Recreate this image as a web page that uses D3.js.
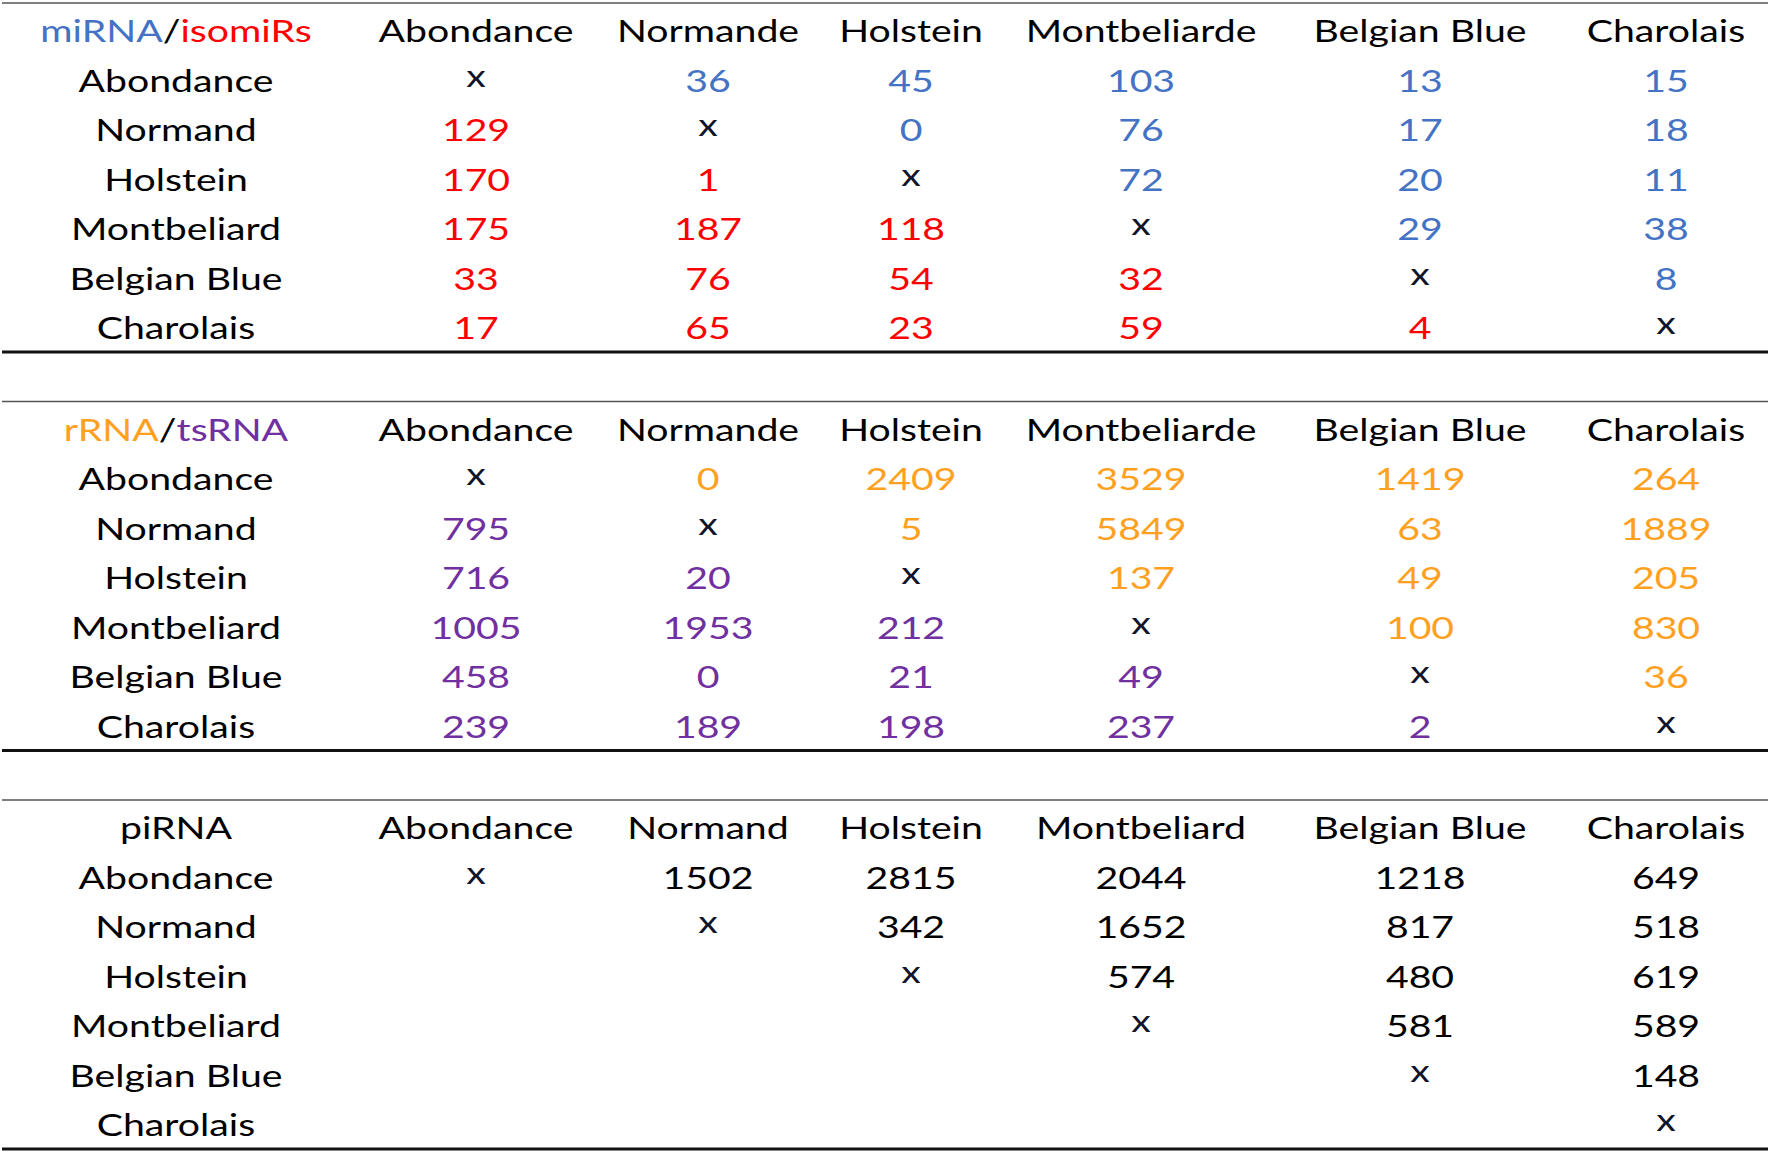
<!DOCTYPE html>
<html>
<head>
<meta charset="utf-8">
<script src="https://cdn.jsdelivr.net/npm/d3@7"></script>
<style>
  html, body { margin: 0; padding: 0; background: #fff; }
  svg { display: block; }
</style>
</head>
<body>
<svg id="chart" width="1772" height="1153"></svg>
<script>
// ---------------- DATA ----------------
const rowLabels = ["Abondance", "Normand", "Holstein", "Montbeliard", "Belgian Blue", "Charolais"];
const colHeadersA = ["Abondance", "Normande", "Holstein", "Montbeliarde", "Belgian Blue", "Charolais"];
const colHeadersB = ["Abondance", "Normand", "Holstein", "Montbeliard", "Belgian Blue", "Charolais"];

// null = diagonal "x", undefined (empty string) = blank cell
const mirnaMatrix = [
  [null, 36, 45, 103, 13, 15],
  [129, null, 0, 76, 17, 18],
  [170, 1, null, 72, 20, 11],
  [175, 187, 118, null, 29, 38],
  [33, 76, 54, 32, null, 8],
  [17, 65, 23, 59, 4, null]
];
const rrnaMatrix = [
  [null, 0, 2409, 3529, 1419, 264],
  [795, null, 5, 5849, 63, 1889],
  [716, 20, null, 137, 49, 205],
  [1005, 1953, 212, null, 100, 830],
  [458, 0, 21, 49, null, 36],
  [239, 189, 198, 237, 2, null]
];
const pirnaMatrix = [
  [null, 1502, 2815, 2044, 1218, 649],
  ["", null, 342, 1652, 817, 518],
  ["", "", null, 574, 480, 619],
  ["", "", "", null, 581, 589],
  ["", "", "", "", null, 148],
  ["", "", "", "", "", null]
];

const sections = [
  { title: [["miRNA", "upper"], ["/", "plain"], ["isomiRs", "lower"]],
    headers: colHeadersA, matrix: mirnaMatrix,
    upper: "#4472C4", lower: "#FF0000" },
  { title: [["rRNA", "upper"], ["/", "plain"], ["tsRNA", "lower"]],
    headers: colHeadersA, matrix: rrnaMatrix,
    upper: "#FFA11F", lower: "#7030A0" },
  { title: [["piRNA", "plain"]],
    headers: colHeadersB, matrix: pirnaMatrix,
    upper: "#000000", lower: "#000000" }
];

// ---------------- LAYOUT ----------------
const W = 1772;
const svg = d3.select("#chart");
const FONT = "Lato, 'Open Sans', sans-serif";
const FS = 31;

// horizontal stretch so that the header word matches the reference width
const probe = svg.append("text").attr("font-family", FONT).attr("font-size", FS).text("Abondance");
const natural = probe.node().getComputedTextLength();
probe.remove();
const SX = 195 / natural;

// column centres (col 0 = row labels)
const colKeys = d3.range(7);
const xCol = d3.scaleOrdinal().domain(colKeys).range([176, 476, 708, 911, 1141, 1420, 1666]);
// section baseline
const ySection = d3.scaleLinear().domain([0, 2]).range([42, 839]);
// row offset inside a section (0 = header)
const yRow = d3.scaleLinear().domain([0, 6]).range([0, 297]);

function addText(g, x, y, str, color, dy) {
  return g.append("text")
    .attr("transform", `translate(${x},${y + (dy || 0)}) scale(${SX},1)`)
    .attr("text-anchor", "middle")
    .attr("font-family", FONT)
    .attr("font-size", FS)
    .attr("fill", color)
    .text(str);
}

sections.forEach((sec, si) => {
  const base = ySection(si);
  const g = svg.append("g");

  // top thin rule and bottom thick rule
  g.append("line").attr("x1", 2).attr("x2", W - 4)
    .attr("y1", base - 39).attr("y2", base - 39)
    .attr("stroke", "#555").attr("stroke-width", 1.6);
  g.append("line").attr("x1", 2).attr("x2", W - 4)
    .attr("y1", base + 310).attr("y2", base + 310)
    .attr("stroke", "#111").attr("stroke-width", 2.8);

  // title (multi-colour)
  const t = g.append("text")
    .attr("transform", `translate(${xCol(0)},${base}) scale(${SX},1)`)
    .attr("text-anchor", "middle")
    .attr("font-family", FONT)
    .attr("font-size", FS);
  sec.title.forEach(([s, kind]) => {
    t.append("tspan")
      .attr("fill", kind === "upper" ? sec.upper : kind === "lower" ? sec.lower : "#000")
      .text(s);
  });

  // column headers
  sec.headers.forEach((h, ci) => addText(g, xCol(ci + 1), base, h, "#000"));

  // rows
  rowLabels.forEach((r, ri) => {
    const y = base + yRow(ri + 1);
    addText(g, xCol(0), y, r, "#000");
    sec.matrix[ri].forEach((v, ci) => {
      const x = xCol(ci + 1);
      if (v === null) {
        addText(g, x, y, "x", "#10142a", -5);
      } else if (v !== "") {
        addText(g, x, y, String(v), ci > ri ? sec.upper : sec.lower);
      }
    });
  });
});
</script>
</body>
</html>
